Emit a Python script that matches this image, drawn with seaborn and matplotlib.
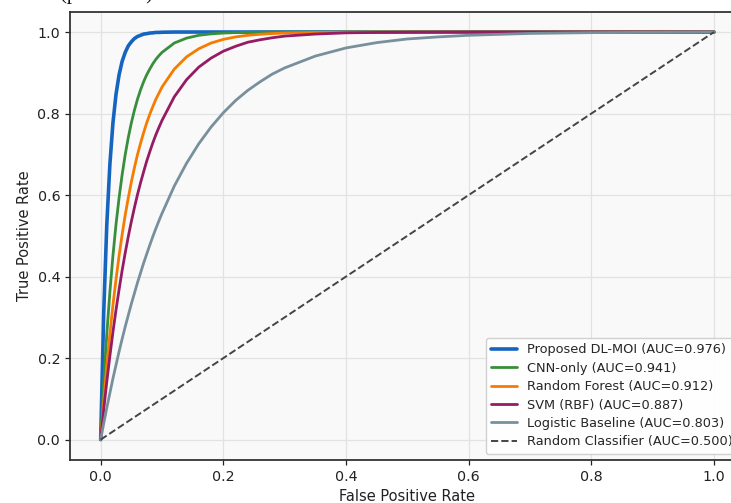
import matplotlib
matplotlib.use("Agg")
import matplotlib.pyplot as plt
import seaborn as sns
import pandas as pd

# ---- data ----
fpr = [0, 0.005, 0.01, 0.015, 0.02, 0.025, 0.03, 0.035, 0.04, 0.045, 0.05,
       0.055, 0.06, 0.065, 0.07, 0.075, 0.08, 0.085, 0.09, 0.095, 0.1,
       0.12, 0.14, 0.16, 0.18, 0.2, 0.22, 0.24, 0.26, 0.28, 0.3,
       0.35, 0.4, 0.45, 0.5, 0.55, 0.6, 0.7, 0.8, 0.9, 1.0]

tpr_dlmoi = [0, 0.313, 0.528, 0.675, 0.777, 0.847, 0.895, 0.928, 0.950, 0.966, 0.976,
             0.984, 0.989, 0.992, 0.995, 0.996, 0.9975, 0.998, 0.999, 0.999, 0.9995,
             1.0, 1.0, 1.0, 1.0, 1.0, 1.0, 1.0, 1.0, 1.0, 1.0,
             1.0, 1.0, 1.0, 1.0, 1.0, 1.0, 1.0, 1.0, 1.0, 1.0]
tpr_cnn = [0, 0.139, 0.259, 0.362, 0.451, 0.528, 0.593, 0.650, 0.699, 0.741, 0.777,
           0.808, 0.835, 0.858, 0.878, 0.895, 0.909, 0.922, 0.933, 0.942, 0.950,
           0.973, 0.985, 0.992, 0.9955, 0.9975, 0.9986, 0.9993, 0.9996, 0.9998, 1.0,
           1.0, 1.0, 1.0, 1.0, 1.0, 1.0, 1.0, 1.0, 1.0, 1.0]
tpr_rf = [0, 0.095, 0.181, 0.259, 0.330, 0.393, 0.451, 0.503, 0.551, 0.593, 0.632,
          0.667, 0.699, 0.727, 0.753, 0.777, 0.798, 0.817, 0.835, 0.850, 0.865,
          0.909, 0.939, 0.959, 0.973, 0.982, 0.988, 0.992, 0.9945, 0.9963, 0.9975,
          0.9991, 0.9997, 0.9999, 1.0, 1.0, 1.0, 1.0, 1.0, 1.0, 1.0]
tpr_svm = [0, 0.074, 0.142, 0.205, 0.264, 0.318, 0.368, 0.415, 0.458, 0.498, 0.535,
           0.569, 0.601, 0.630, 0.657, 0.683, 0.706, 0.728, 0.748, 0.766, 0.783,
           0.841, 0.883, 0.914, 0.936, 0.953, 0.965, 0.975, 0.981, 0.986, 0.990,
           0.995, 0.998, 0.999, 0.9995, 0.9998, 0.9999, 1.0, 1.0, 1.0, 1.0]
tpr_log = [0, 0.040, 0.078, 0.114, 0.150, 0.183, 0.216, 0.247, 0.277, 0.305, 0.333,
           0.359, 0.385, 0.409, 0.433, 0.455, 0.477, 0.498, 0.518, 0.537, 0.555,
           0.622, 0.678, 0.726, 0.767, 0.802, 0.832, 0.857, 0.878, 0.897, 0.912,
           0.941, 0.961, 0.974, 0.983, 0.988, 0.992, 0.9966, 0.9985, 0.9993, 1.0]

rand_fpr = [0, 1]
rand_tpr = [0, 1]

labels = ["Proposed DL-MOI (AUC=0.976)", "CNN-only (AUC=0.941)",
          "Random Forest (AUC=0.912)", "SVM (RBF) (AUC=0.887)",
          "Logistic Baseline (AUC=0.803)"]
rand_label = "Random Classifier (AUC=0.500)"
colors = ["#1565C0", "#388E3C", "#F57C00", "#951B63", "#78909C"]
widths = [2.6, 2.0, 2.0, 2.0, 2.0]
series = [tpr_dlmoi, tpr_cnn, tpr_rf, tpr_svm, tpr_log]

xticks = [0.0, 0.2, 0.4, 0.6, 0.8, 1.0]
yticks = [0.0, 0.2, 0.4, 0.6, 0.8, 1.0]

# ---- style ----
sns.set_style("ticks")
plt.rcParams["font.family"] = ["DejaVu Sans"]

fig = plt.figure(figsize=(7.31, 5.03), dpi=100)
ax = fig.add_axes([70 / 731, 43 / 503, 674.7 / 731, 448.35 / 503])
ax.set_facecolor("#f9f9f9")

for tpr, lab, col, lw in zip(series, labels, colors, widths):
    df = pd.DataFrame({"fpr": fpr, "tpr": tpr})
    sns.lineplot(data=df, x="fpr", y="tpr", ax=ax, color=col, linewidth=lw,
                 label=lab, estimator=None, sort=False)

df_r = pd.DataFrame({"fpr": rand_fpr, "tpr": rand_tpr})
sns.lineplot(data=df_r, x="fpr", y="tpr", ax=ax, color="#444444", linewidth=1.4,
             linestyle="--", label=rand_label, estimator=None, sort=False)

ax.set_xlim(-0.05, 1.05)
ax.set_ylim(-0.05, 1.05)
ax.set_xticks(xticks)
ax.set_yticks(yticks)
ax.set_xticklabels([f"{t:.1f}" for t in xticks])
ax.set_yticklabels([f"{t:.1f}" for t in yticks])
ax.tick_params(labelsize=10.3, length=3.6, width=0.9, colors="#222222")
ax.grid(True, color="#e2e2e2", linewidth=0.9)
ax.set_axisbelow(True)
for s in ax.spines.values():
    s.set_color("#333333")
    s.set_linewidth(1.3)
    s.set_visible(True)

ax.set_xlabel("False Positive Rate", fontsize=10.5, color="#222222", labelpad=4)
ax.set_ylabel("True Positive Rate", fontsize=10.5, color="#222222", labelpad=4)

leg = ax.legend(loc="lower right", fontsize=9.3, frameon=True, fancybox=True,
                framealpha=0.9, edgecolor="#cccccc", labelspacing=0.42)

# fragment of caption text above the figure (mostly cut off in the reference)
fig.text(60 / 731, 1 + 0.5 / 503, "(p < 0.001).", fontsize=15,
         family="Liberation Serif", va="baseline", ha="left", color="#111111")

fig.savefig("out.png", dpi=100)
